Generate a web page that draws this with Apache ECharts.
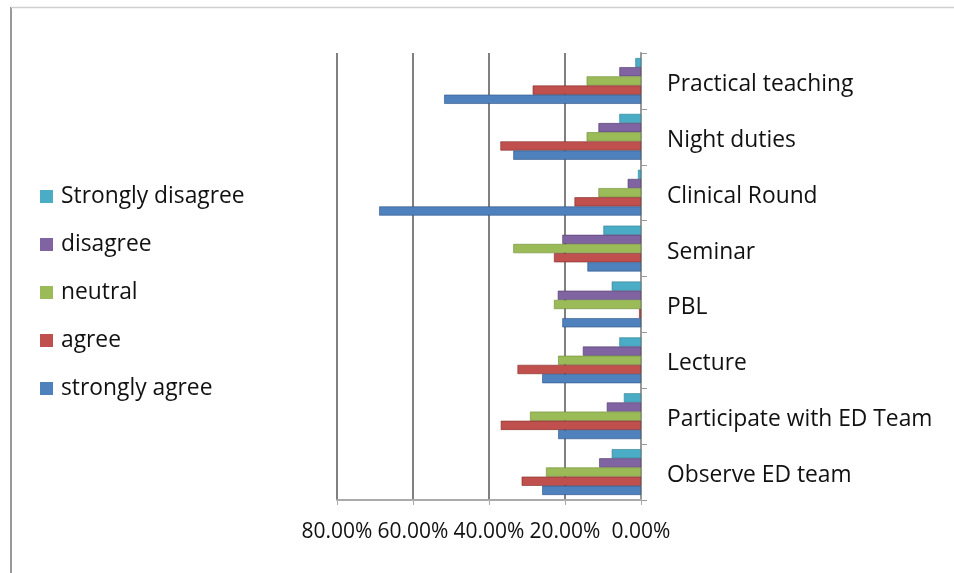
<!DOCTYPE html>
<html>
<head>
<meta charset="utf-8">
<script src="https://cdn.jsdelivr.net/npm/echarts@6/dist/echarts.min.js"></script>
<style>
html,body{margin:0;padding:0;background:#fff;}
#c{width:954px;height:573px;}
</style>
</head>
<body>
<div id="c"></div>
<script>
const categories = ['Practical teaching','Night duties','Clinical Round','Seminar','PBL','Lecture','Participate with ED Team','Observe ED team'];
const seriesNames = ['Strongly disagree','disagree','neutral','agree','strongly agree'];
const stronglyDisagree = [1.5, 5.7, 0.8, 9.9, 7.7, 5.7, 4.5, 7.7];
const disagree = [5.7, 11.2, 3.5, 20.7, 21.9, 15.3, 9.0, 11.0];
const neutral = [14.3, 14.3, 11.2, 33.6, 22.9, 21.8, 29.2, 25.0];
const agree = [28.5, 37.0, 17.5, 22.9, 0.5, 32.5, 36.9, 31.4];
const stronglyAgree = [51.8, 33.6, 68.9, 14.1, 20.7, 26.0, 21.8, 26.0];
const xTicks = [0, 20, 40, 60, 80];

const colors = ['#4BACC6','#8064A2','#9BBB59','#C0504D','#4F81BD'];
const borders = ['#2f7f95','#4d3a6a','#6b8a30','#7f2a27','#2b5283'];
const values = [stronglyDisagree, disagree, neutral, agree, stronglyAgree];
const font = '"Open Sans", Lato, sans-serif';

const chart = echarts.init(document.getElementById('c'));
chart.setOption({
  animation: false,
  backgroundColor: '#fff',
  color: colors,
  textStyle: {fontFamily: font},
  legend: {
    orient: 'vertical',
    left: 35,
    top: 180,
    itemWidth: 13,
    itemHeight: 13,
    itemGap: 25,
    icon: 'rect',
    data: seriesNames,
    itemStyle: {borderWidth: 0},
    textStyle: {fontSize: 22.8, color: '#111', fontFamily: font, padding: [0, 0, 0, 3]}
  },
  grid: {left: 337, right: 313, top: 53, bottom: 73, containLabel: false},
  xAxis: {
    type: 'value',
    inverse: true,
    min: xTicks[0],
    max: xTicks[xTicks.length - 1],
    interval: 20,
    axisLine: {show: true, lineStyle: {color: '#aaa', width: 2}},
    axisTick: {show: true, length: 5, lineStyle: {color: '#aaa'}},
    splitLine: {show: true, lineStyle: {color: '#808080', width: 2}},
    axisLabel: {
      fontSize: 21, color: '#111', margin: 22, fontFamily: font,
      formatter: v => v.toFixed(2) + '%'
    }
  },
  yAxis: {
    type: 'category',
    position: 'right',
    inverse: true,
    data: categories,
    axisLine: {show: true, lineStyle: {color: '#999', width: 2}},
    axisTick: {show: true, length: 6, lineStyle: {color: '#999'}},
    axisLabel: {fontSize: 22.8, color: '#111', margin: 26, fontFamily: font, verticalAlign: 'top', lineHeight: 7}
  },
  series: seriesNames.map((n, i) => ({
    name: n,
    type: 'bar',
    data: values[i],
    barGap: '0%',
    barCategoryGap: '18%',
    itemStyle: {color: colors[i], borderColor: borders[i], borderWidth: 0.6}
  })),
  graphic: [
    {type: 'line', shape: {x1: 11, y1: 7, x2: 11, y2: 573}, style: {stroke: '#999', lineWidth: 2}, silent: true},
    {type: 'line', shape: {x1: 11, y1: 7.5, x2: 954, y2: 7.5}, style: {stroke: '#d0d0d0', lineWidth: 1.5}, silent: true}
  ]
});
</script>
</body>
</html>
